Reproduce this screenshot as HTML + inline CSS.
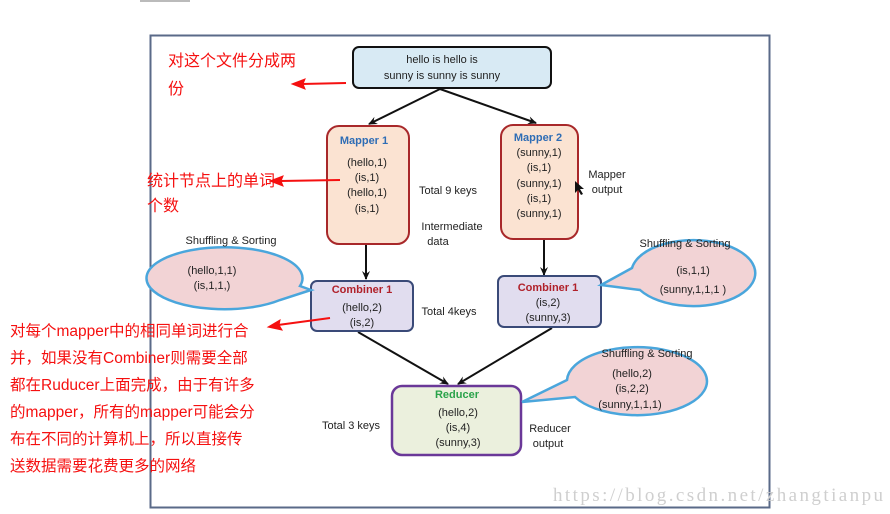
<!DOCTYPE html>
<html><head><meta charset="utf-8"><style>
html,body{margin:0;padding:0;background:#fff;}
svg{display:block;}
.t{font-family:"Liberation Sans",sans-serif;font-size:11px;fill:#222;text-anchor:middle;}
.r{font-family:"Liberation Sans","Noto Sans CJK SC",sans-serif;font-size:16px;fill:#f51010;}
.b{font-family:"Liberation Sans","Noto Sans CJK SC",sans-serif;font-size:15.5px;fill:#f51010;}
</style></head><body>
<svg width="890" height="514" viewBox="0 0 890 514" xmlns="http://www.w3.org/2000/svg">
<defs>
<marker id="a" markerWidth="10" markerHeight="10" refX="8" refY="5" orient="auto" markerUnits="userSpaceOnUse"><path d="M0,1 L9,5 L0,9 L3,5z" fill="#111"/></marker>
</defs>
<rect x="0" y="0" width="890" height="514" fill="#fff"/>
<rect x="140" y="0" width="50" height="2" fill="#bbb"/>
<rect x="150.5" y="35.5" width="619" height="472" fill="none" stroke="#5a6a88" stroke-width="2"/>

<g stroke="#111" stroke-width="2" fill="none" marker-end="url(#a)">
<line x1="440" y1="89" x2="369" y2="124"/>
<line x1="440" y1="89" x2="536" y2="123"/>
<line x1="366" y1="245" x2="366" y2="279"/>
<line x1="544" y1="240" x2="544" y2="275"/>
<line x1="358" y1="332" x2="448" y2="384"/>
<line x1="552" y1="328" x2="458" y2="384"/>
</g>

<rect x="353" y="47" width="198" height="41" rx="6" fill="#d8eaf4" stroke="#111" stroke-width="2"/>
<text class="t" x="442" y="63">hello is hello is</text>
<text class="t" x="442" y="79">sunny is sunny is sunny</text>

<rect x="327" y="126" width="82" height="118" rx="12" fill="#fbe3d2" stroke="#a8282a" stroke-width="2"/>
<text class="t" x="364" y="144" style="fill:#2f6db5;font-weight:bold">Mapper 1</text>
<text class="t" x="367" y="166">(hello,1)</text>
<text class="t" x="367" y="181">(is,1)</text>
<text class="t" x="367" y="196">(hello,1)</text>
<text class="t" x="367" y="212">(is,1)</text>

<rect x="501" y="125" width="77" height="114" rx="12" fill="#fbe3d2" stroke="#a8282a" stroke-width="2"/>
<text class="t" x="538" y="141" style="fill:#2f6db5;font-weight:bold">Mapper 2</text>
<text class="t" x="539" y="156">(sunny,1)</text>
<text class="t" x="539" y="171">(is,1)</text>
<text class="t" x="539" y="187">(sunny,1)</text>
<text class="t" x="539" y="202">(is,1)</text>
<text class="t" x="539" y="217">(sunny,1)</text>

<text class="t" x="448" y="194">Total 9 keys</text>
<text class="t" x="452" y="230">Intermediate</text>
<text class="t" x="438" y="245">data</text>
<text class="t" x="607" y="178">Mapper</text>
<text class="t" x="607" y="193">output</text>
<path d="M575,181 l0,12 l3,-3 l3,5 l2,-1 l-3,-5 l4,0z" fill="#111"/>

<rect x="311" y="281" width="102" height="50" rx="6" fill="#e1ddef" stroke="#3a4a78" stroke-width="2"/>
<text class="t" x="362" y="293" style="fill:#b0212a;font-weight:bold">Combiner 1</text>
<text class="t" x="362" y="311">(hello,2)</text>
<text class="t" x="362" y="326">(is,2)</text>

<rect x="498" y="276" width="103" height="51" rx="6" fill="#e1ddef" stroke="#3a4a78" stroke-width="2"/>
<text class="t" x="548" y="291" style="fill:#b0212a;font-weight:bold">Combiner 1</text>
<text class="t" x="548" y="306">(is,2)</text>
<text class="t" x="548" y="321">(sunny,3)</text>

<text class="t" x="449" y="315">Total 4keys</text>

<rect x="392" y="386" width="129" height="69" rx="10" fill="#ebf0dd" stroke="#6a3898" stroke-width="2.5"/>
<text class="t" x="457" y="398" style="fill:#2aa34a;font-weight:bold">Reducer</text>
<text class="t" x="458" y="416">(hello,2)</text>
<text class="t" x="458" y="431">(is,4)</text>
<text class="t" x="458" y="446">(sunny,3)</text>
<text class="t" x="351" y="429">Total 3 keys</text>
<text class="t" x="550" y="432">Reducer</text>
<text class="t" x="548" y="447">output</text>

<g fill="#f2d3d5" stroke="#4aa6dc" stroke-width="2.5">
<path d="M300,286 A78,31 0 1 0 280,300 L311,290 Z"/>
<path d="M632,268 A62,33 0 1 1 640,290 L601,285 Z"/>
<path d="M567,380 A70,34 0 1 1 575,397 L522,402 Z"/>
</g>
<text class="t" x="231" y="244">Shuffling &amp; Sorting</text>
<text class="t" x="212" y="274">(hello,1,1)</text>
<text class="t" x="212" y="289">(is,1,1,)</text>
<text class="t" x="685" y="247">Shuffling &amp; Sorting</text>
<text class="t" x="693" y="274">(is,1,1)</text>
<text class="t" x="693" y="293">(sunny,1,1,1 )</text>
<text class="t" x="647" y="357">Shuffling &amp; Sorting</text>
<text class="t" x="632" y="377">(hello,2)</text>
<text class="t" x="632" y="392">(is,2,2)</text>
<text class="t" x="630" y="408">(sunny,1,1,1)</text>

<text class="r" x="168" y="66">对这个文件分成两</text>
<text class="r" x="168" y="94">份</text>
<text class="r" x="147" y="186">统计节点上的单词</text>
<text class="r" x="147" y="211">个数</text>
<text class="b" x="10" y="336">对每个mapper中的相同单词进行合</text>
<text class="b" x="10" y="363">并，如果没有Combiner则需要全部</text>
<text class="b" x="10" y="390">都在Ruducer上面完成，由于有许多</text>
<text class="b" x="10" y="417">的mapper，所有的mapper可能会分</text>
<text class="b" x="10" y="444">布在不同的计算机上，所以直接传</text>
<text class="b" x="10" y="471">送数据需要花费更多的网络</text>
<g fill="#f51010" stroke="#f51010">
<line x1="346" y1="83" x2="302" y2="84" stroke-width="2"/>
<path d="M292,84 L305,79 L303,84 L305,89z"/>
<line x1="340" y1="180" x2="280" y2="181" stroke-width="2"/>
<path d="M270,181 L283,176 L281,181 L283,186z"/>
<line x1="330" y1="318" x2="278" y2="325" stroke-width="2"/>
<path d="M268,327 L280,320 L279,325 L282,330z"/>
</g>

<text x="553" y="501" textLength="330" style="font-family:'Liberation Serif',serif;font-size:19px;fill:#cfcfcf">https://blog.csdn.net/zhangtianpu</text>
</svg>
</body></html>
